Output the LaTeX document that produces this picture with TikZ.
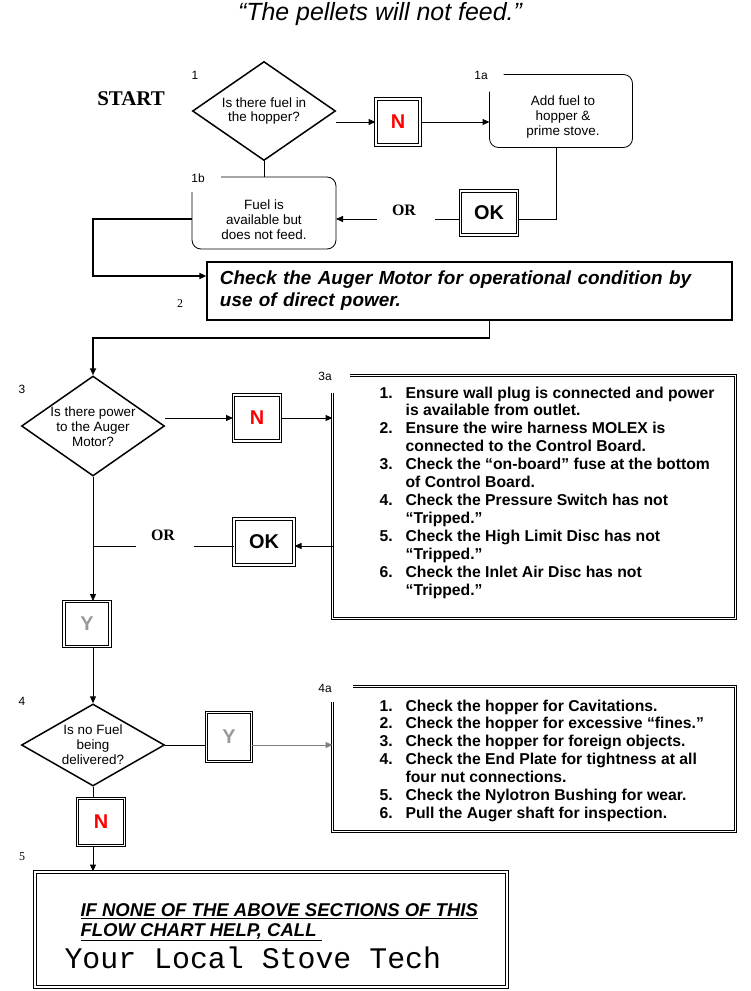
\documentclass[tikz,border=0pt]{standalone}
\usepackage{fontspec}
\setmainfont{Liberation Sans}
\setmonofont{Liberation Mono}
\newfontfamily\timesfont{Liberation Serif}
\usetikzlibrary{shapes.geometric,arrows.meta}
\begin{document}
    \begin{tikzpicture}[x=1bp,y=-1bp,line width=1bp,
        decision/.style={draw,line width=1.5bp,diamond,aspect=1.45,inner sep=-2bp,minimum width=143bp,align=center,font=\fontsize{13.5}{15}\selectfont},
        answer/.style={draw,line width=1bp,double,double distance=1.8bp,inner sep=0pt,font=\fontsize{20}{20}\selectfont\bfseries},
        frame/.style={line width=1bp,double,double distance=1.8bp},
        soft/.style={rounded corners=9bp,line width=0.8bp},
        note/.style={align=center,font=\fontsize{13.5}{15}\selectfont},
        steps/.style={anchor=north west,inner sep=0pt,font=\fontsize{15.8}{18}\selectfont\bfseries},
        num/.style={font=\fontsize{12}{12}\selectfont},
        orlabel/.style={font=\fontsize{16}{16}\selectfont\timesfont\bfseries},
        callout/.style={anchor=west,inner sep=0pt,font=\fontsize{18.6}{18.6}\selectfont\bfseries\itshape},
        arr/.style={-{Triangle[length=7bp,width=6bp]}}]
        \useasboundingbox (0,0) rectangle (751,991);
        \node[font=\fontsize{25}{25}\selectfont\itshape] (title) at (380,14) {“The pellets will not feed.”};
        \node[font=\fontsize{21}{21}\selectfont\timesfont\bfseries] (start) at (131,99) {START};
        \node[num] (l1) at (195,75) {1};
        \node[decision,minimum height=99bp] (d1) at (264,111) {Is there fuel in\\the hopper?};
        \node[answer,minimum width=44bp,minimum height=46bp,text=red] (n1) at (398,122) {N};
        \node[num] (l1a) at (481,75) {1a};
        \node[minimum width=142bp,minimum height=72bp] (a1) at (561,111) {};
        \node[note] (a1t) at (563,117) {Add fuel to\\hopper \&\\prime stove.};
        \node[answer,minimum width=57bp,minimum height=44bp] (ok1) at (489,213) {OK};
        \node[orlabel] (or1) at (404,210) {OR};
        \coordinate (g1r) at (435,219);
        \coordinate (g1l) at (377,219);
        \node[num] (l1b) at (198,178) {1b};
        \node[minimum width=143bp,minimum height=71bp] (b1) at (264,213) {};
        \node[note] (b1t) at (264,220) {Fuel is\\available but\\does not feed.};
        \coordinate (c1) at (93,276);
        \node[draw,line width=1.2bp,text width=499bp,inner xsep=13bp,inner ysep=0pt,minimum height=58bp,align=left,font=\fontsize{19}{22}\selectfont\bfseries\itshape] (b2) at (469.5,291) {Check the Auger Motor for operational condition by\\use of direct power.};
        \node[font=\fontsize{12}{12}\selectfont\timesfont] (l2) at (180,304) {2};
        \coordinate (c2) at (93,338);
        \node[num] (l3) at (22,389) {3};
        \node[decision,minimum height=100bp] (d3) at (93,426) {\\[-4bp]Is there power\\to the Auger\\Motor?};
        \node[answer,minimum width=47bp,minimum height=46bp,text=red] (n3) at (257,418) {N};
        \node[num] (l3a) at (325,376) {3a};
        \node[minimum width=402bp,minimum height=242bp] (b3a) at (534,497) {};
        \node[steps] (t3a) at (379,385) {\begin{tabular}{@{}r@{\hspace{13bp}}l@{}}
            1. & Ensure wall plug is connected and power\\
               & is available from outlet.\\
            2. & Ensure the wire harness MOLEX is\\
               & connected to the Control Board.\\
            3. & Check the “on-board” fuse at the bottom\\
               & of Control Board.\\
            4. & Check the Pressure Switch has not\\
               & “Tripped.”\\
            5. & Check the High Limit Disc has not\\
               & “Tripped.”\\
            6. & Check the Inlet Air Disc has not\\
               & “Tripped.”
        \end{tabular}};
        \node[answer,minimum width=60bp,minimum height=46bp] (ok3) at (264,542) {OK};
        \node[orlabel] (or3) at (163,535) {OR};
        \coordinate (g3r) at (194,546);
        \coordinate (g3l) at (136,546);
        \node[answer,minimum width=46bp,minimum height=45bp,text=black!40] (y3) at (87,624) {Y};
        \node[num] (l4) at (22,701) {4};
        \node[decision,aspect=1.6,minimum height=82bp] (d4) at (93,745) {Is no Fuel\\being\\delivered?};
        \node[answer,minimum width=45bp,minimum height=49bp,text=black!40] (y4) at (229,737) {Y};
        \node[num] (l4a) at (325,688) {4a};
        \node[minimum width=402bp,minimum height=144bp] (b4a) at (534,759) {};
        \node[steps] (t4a) at (379,698) {\begin{tabular}{@{}r@{\hspace{13bp}}l@{}}
            1. & Check the hopper for Cavitations.\\
            2. & Check the hopper for excessive “fines.”\\
            3. & Check the hopper for foreign objects.\\
            4. & Check the End Plate for tightness at all\\
               & four nut connections.\\
            5. & Check the Nylotron Bushing for wear.\\
            6. & Pull the Auger shaft for inspection.
        \end{tabular}};
        \node[answer,minimum width=47bp,minimum height=47bp,text=red] (n4) at (101,822) {N};
        \node[font=\fontsize{12}{12}\selectfont\timesfont] (l5) at (22,857) {5};
        \node[draw,frame,minimum width=472bp,minimum height=115bp] (b5) at (271,929.5) {};
        \node[callout] (t5a) at (80,911) {\underline{IF NONE OF THE ABOVE SECTIONS OF THIS}};
        \node[callout] (t5b) at (80,932) {\underline{FLOW CHART HELP, CALL\ }};
        \node[anchor=west,inner sep=0pt,font=\fontsize{30}{30}\selectfont\ttfamily] (t5c) at (64,958) {Your Local Stove Tech};
        \draw[soft] ([yshift=-17bp]a1.north west) -- (a1.south west) -- (a1.south east) -- (a1.north east) -- ([xshift=14bp]a1.north west);
        \draw[soft] ([yshift=-15bp]b1.north west) -- (b1.south west) -- (b1.south east) -- (b1.north east) -- ([xshift=29bp]b1.north west);
        \draw[frame] ([yshift=-17bp]b3a.north west) -- (b3a.south west) -- (b3a.south east) -- (b3a.north east) -- ([xshift=17bp]b3a.north west);
        \draw[frame] ([yshift=-15bp]b4a.north west) -- (b4a.south west) -- (b4a.south east) -- (b4a.north east) -- ([xshift=20bp]b4a.north west);
        \draw[arr] (d1.east |- n1.west) -- (n1.west);
        \draw[arr] (n1.east) -- (n1.east -| a1.west);
        \draw ([xshift=-5bp]a1.south) |- (ok1.east |- g1r);
        \draw (ok1.west |- g1r) -- (g1r);
        \draw[arr] (g1l) -- (g1l -| b1.east);
        \draw (d1.south) -- (d1.south |- b1.north);
        \draw[arr,line width=1.6bp] (b1.west |- g1l) -- (g1l -| c1) -- (c1) -- (c1 -| b2.west);
        \draw[arr,line width=1.8bp] ([xshift=20bp]b2.south) |- (c2) -- (d3.north);
        \draw[arr] (d3.east |- n3.west) -- (n3.west);
        \draw[arr] (n3.east) -- (n3.east -| b3a.west);
        \draw[arr] (b3a.west |- g3r) -- (ok3.east |- g3r);
        \draw (ok3.west |- g3r) -- (g3r);
        \draw (g3l) -- (g3l -| d3.south);
        \draw[arr] (d3.south) -- (d3.south |- y3.north);
        \draw[arr] (d3.south |- y3.south) -- (d4.north);
        \draw (d4.east) -- (d4.east -| y4.west);
        \draw[arr,black!50] (d4.east -| y4.east) -- (d4.east -| b4a.west);
        \draw (d4.south) -- (d4.south |- n4.north);
        \draw[arr] (d4.south |- n4.south) -- (d4.south |- b5.north);
    \end{tikzpicture}
\end{document}
